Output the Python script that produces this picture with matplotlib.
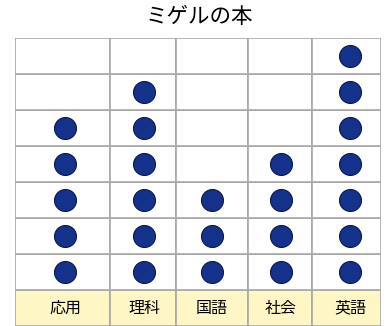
import matplotlib
matplotlib.use('Agg')
import matplotlib.pyplot as plt
from matplotlib.patches import Rectangle

plt.rcParams['font.family'] = ['Noto Sans CJK JP', 'DejaVu Sans']

# データ
subjects = ['応用', '理科', '国語', '社会', '英語']
counts = [5, 6, 3, 4, 7]
title = 'ミゲルの本'
n_rows = 7

# 列の境界（ピクセル幅に合わせる）
col_edges = [0, 95, 161, 233, 297, 366]
col_centers = [50, 129, 197, 266, 335]

W, H = 387, 326
fig = plt.figure(figsize=(W / 100, H / 100), dpi=100)
ax = fig.add_axes([15 / W, 0, 366 / W, 288 / H])
ax.set_xlim(0, 366)
ax.set_ylim(0, n_rows + 1)
ax.axis('off')

grid_color = '#a8a8a8'

# ラベル行の背景
for i in range(len(subjects)):
    ax.add_patch(Rectangle((col_edges[i], 0), col_edges[i + 1] - col_edges[i], 1,
                           facecolor='#fff6c6', edgecolor=grid_color, lw=1.2))
    ax.text(col_centers[i], 0.5, subjects[i], ha='center', va='center', fontsize=11.5)

# グリッド
for i in range(len(subjects)):
    for r in range(n_rows):
        ax.add_patch(Rectangle((col_edges[i], 1 + r), col_edges[i + 1] - col_edges[i], 1,
                               facecolor='white', edgecolor=grid_color, lw=1.2))

# 点
xs = []
ys = []
for i in range(len(subjects)):
    for k in range(counts[i]):
        xs.append(col_centers[i])
        ys.append(1.5 + k)
ax.scatter(xs, ys, s=250, color='#14328c', edgecolors='#0a1a4a', linewidths=0.8, zorder=3)

fig.text(199 / W, 1 - 17 / H, title, ha='center', va='center', fontsize=15.5)

fig.savefig('out.png', dpi=100)
